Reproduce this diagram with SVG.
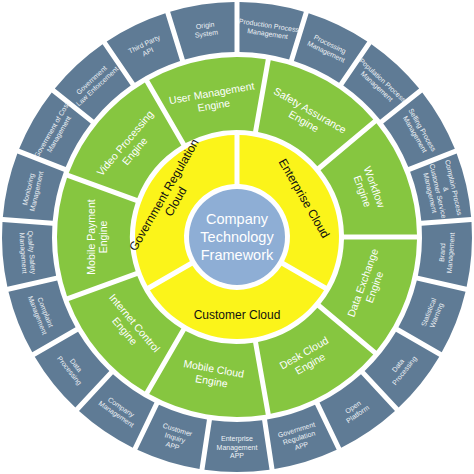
<svg xmlns="http://www.w3.org/2000/svg" xmlns:xlink="http://www.w3.org/1999/xlink" width="474" height="474" viewBox="0 0 474 474">
<style>
.ot{font-family:"Liberation Sans",Arial,sans-serif;font-size:7px;fill:#eef2f6;text-anchor:middle}
.gt{font-family:"Liberation Sans",Arial,sans-serif;font-size:10.5px;fill:#ffffff;text-anchor:middle}
.yt{font-family:"Liberation Sans",Arial,sans-serif;font-size:12px;fill:#111111;text-anchor:middle}
.ct{font-family:"Liberation Sans",Arial,sans-serif;font-size:14.5px;fill:#ffffff;text-anchor:middle}
</style>
<defs>
<path id="seg-o" fill="#5f7b95" d="M -32.55,-232.73 A 235 235 0 0 1 32.55,-232.73 L 25.10,-183.29 A 185 185 0 0 0 -25.10,-183.29 Z"/>
<path id="seg-g" fill="#86c640" d="M -59.21,-169.98 A 180 180 0 0 1 59.21,-169.98 L 34.24,-101.37 A 107 107 0 0 0 -34.24,-101.37 Z"/>
<path id="seg-y" fill="#fbf41a" d="M -87.06,-53.15 A 102 102 0 0 1 87.06,-53.15 L 44.60,-28.64 A 53 53 0 0 0 -44.60,-28.64 Z"/>
</defs>
<rect width="474" height="474" fill="#ffffff"/>

<!-- outer ring -->
<g id="n-production-process" transform="translate(237,237) rotate(8.571)"><use xlink:href="#seg-o"/><text class="ot" y="-211.6"><tspan x="0">Production Process</tspan><tspan x="0" dy="8.4">Management</tspan></text></g>
<g id="n-processing-management" transform="translate(237,237) rotate(25.714)"><use xlink:href="#seg-o"/><text class="ot" y="-211.6"><tspan x="0">Processing</tspan><tspan x="0" dy="8.4">Management</tspan></text></g>
<g id="n-population-process" transform="translate(237,237) rotate(42.857)"><use xlink:href="#seg-o"/><text class="ot" y="-211.6"><tspan x="0">Population Process</tspan><tspan x="0" dy="8.4">Management</tspan></text></g>
<g id="n-selling-process" transform="translate(237,237) rotate(60)"><use xlink:href="#seg-o"/><text class="ot" y="-211.6"><tspan x="0">Selling Process</tspan><tspan x="0" dy="8.4">Management</tspan></text></g>
<g id="n-complain-process" transform="translate(237,237) rotate(77.143)"><use xlink:href="#seg-o"/><text class="ot" y="-219.8"><tspan x="0">Complain Process</tspan><tspan x="0" dy="8">&amp;</tspan><tspan x="0" dy="8">Customer Service</tspan><tspan x="0" dy="8">Management</tspan></text></g>
<g id="n-brand-management" transform="translate(237,237) rotate(94.286)"><use xlink:href="#seg-o"/><text class="ot" transform="rotate(180)" y="208.3"><tspan x="0">Brand</tspan><tspan x="0" dy="8.4">Management</tspan></text></g>
<g id="n-statistical-warning" transform="translate(237,237) rotate(111.429)"><use xlink:href="#seg-o"/><text class="ot" transform="rotate(180)" y="208.3"><tspan x="0">Statistical</tspan><tspan x="0" dy="8.4">Warning</tspan></text></g>
<g id="n-data-processing-1" transform="translate(237,237) rotate(128.571)"><use xlink:href="#seg-o"/><text class="ot" transform="rotate(180)" y="208.3"><tspan x="0">Data</tspan><tspan x="0" dy="8.4">Processing</tspan></text></g>
<g id="n-open-platform" transform="translate(237,237) rotate(145.714)"><use xlink:href="#seg-o"/><text class="ot" transform="rotate(180)" y="208.3"><tspan x="0">Open</tspan><tspan x="0" dy="8.4">Platform</tspan></text></g>
<g id="n-government-regulation-app" transform="translate(237,237) rotate(162.857)"><use xlink:href="#seg-o"/><text class="ot" transform="rotate(180)" y="204.1"><tspan x="0">Government</tspan><tspan x="0" dy="8.4">Regulation</tspan><tspan x="0" dy="8.4">APP</tspan></text></g>
<g id="n-enterprise-management-app" transform="translate(237,237) rotate(180)"><use xlink:href="#seg-o"/><text class="ot" transform="rotate(180)" y="204.1"><tspan x="0">Enterprise</tspan><tspan x="0" dy="8.4">Management</tspan><tspan x="0" dy="8.4">APP</tspan></text></g>
<g id="n-customer-inquiry-app" transform="translate(237,237) rotate(197.143)"><use xlink:href="#seg-o"/><text class="ot" transform="rotate(180)" y="204.1"><tspan x="0">Customer</tspan><tspan x="0" dy="8.4">Inquiry</tspan><tspan x="0" dy="8.4">APP</tspan></text></g>
<g id="n-company-management" transform="translate(237,237) rotate(214.286)"><use xlink:href="#seg-o"/><text class="ot" transform="rotate(180)" y="208.3"><tspan x="0">Company</tspan><tspan x="0" dy="8.4">Management</tspan></text></g>
<g id="n-data-processing-2" transform="translate(237,237) rotate(231.429)"><use xlink:href="#seg-o"/><text class="ot" transform="rotate(180)" y="208.3"><tspan x="0">Data</tspan><tspan x="0" dy="8.4">Processing</tspan></text></g>
<g id="n-complaint-management" transform="translate(237,237) rotate(248.571)"><use xlink:href="#seg-o"/><text class="ot" transform="rotate(180)" y="208.3"><tspan x="0">Complaint</tspan><tspan x="0" dy="8.4">Management</tspan></text></g>
<g id="n-quality-safety" transform="translate(237,237) rotate(265.714)"><use xlink:href="#seg-o"/><text class="ot" transform="rotate(180)" y="208.3"><tspan x="0">Quality Safety</tspan><tspan x="0" dy="8.4">Management</tspan></text></g>
<g id="n-monitoring-management" transform="translate(237,237) rotate(282.857)"><use xlink:href="#seg-o"/><text class="ot" y="-211.6"><tspan x="0">Monitoring</tspan><tspan x="0" dy="8.4">Management</tspan></text></g>
<g id="n-government-cost" transform="translate(237,237) rotate(300)"><use xlink:href="#seg-o"/><text class="ot" y="-211.6"><tspan x="0">Government of Cost</tspan><tspan x="0" dy="8.4">Management</tspan></text></g>
<g id="n-government-law" transform="translate(237,237) rotate(317.143)"><use xlink:href="#seg-o"/><text class="ot" y="-211.6"><tspan x="0">Government</tspan><tspan x="0" dy="8.4">Law Enforcement</tspan></text></g>
<g id="n-third-party-api" transform="translate(237,237) rotate(334.286)"><use xlink:href="#seg-o"/><text class="ot" y="-211.6"><tspan x="0">Third Party</tspan><tspan x="0" dy="8.4">API</tspan></text></g>
<g id="n-origin-system" transform="translate(237,237) rotate(351.429)"><use xlink:href="#seg-o"/><text class="ot" y="-211.6"><tspan x="0">Origin</tspan><tspan x="0" dy="8.4">System</tspan></text></g>

<!-- green ring -->
<g id="n-safety-assurance" transform="translate(237,237) rotate(30)"><use xlink:href="#seg-g"/><text class="gt" y="-142.5"><tspan x="0">Safety Assurance</tspan><tspan x="0" dy="12.5">Engine</tspan></text></g>
<g id="n-workflow" transform="translate(237,237) rotate(70)"><use xlink:href="#seg-g"/><text class="gt" y="-142.5"><tspan x="0">Workflow</tspan><tspan x="0" dy="12.5">Engine</tspan></text></g>
<g id="n-data-exchange" transform="translate(237,237) rotate(110)"><use xlink:href="#seg-g"/><text class="gt" transform="rotate(180)" y="137.5"><tspan x="0">Data Exchange</tspan><tspan x="0" dy="12.5">Engine</tspan></text></g>
<g id="n-desk-cloud" transform="translate(237,237) rotate(150)"><use xlink:href="#seg-g"/><text class="gt" transform="rotate(180)" y="137.5"><tspan x="0">Desk Cloud</tspan><tspan x="0" dy="12.5">Engine</tspan></text></g>
<g id="n-mobile-cloud" transform="translate(237,237) rotate(190)"><use xlink:href="#seg-g"/><text class="gt" transform="rotate(180)" y="137.5"><tspan x="0">Mobile Cloud</tspan><tspan x="0" dy="12.5">Engine</tspan></text></g>
<g id="n-internet-control" transform="translate(237,237) rotate(230)"><use xlink:href="#seg-g"/><text class="gt" transform="rotate(180)" y="137.5"><tspan x="0">Internet Control</tspan><tspan x="0" dy="12.5">Engine</tspan></text></g>
<g id="n-mobile-payment" transform="translate(237,237) rotate(270)"><use xlink:href="#seg-g"/><text class="gt" y="-142.5"><tspan x="0">Mobile Payment</tspan><tspan x="0" dy="12.5">Engine</tspan></text></g>
<g id="n-video-processing" transform="translate(237,237) rotate(310)"><use xlink:href="#seg-g"/><text class="gt" y="-142.5"><tspan x="0">Video Processing</tspan><tspan x="0" dy="12.5">Engine</tspan></text></g>
<g id="n-user-management" transform="translate(237,237) rotate(350)"><use xlink:href="#seg-g"/><text class="gt" y="-142.5"><tspan x="0">User Management</tspan><tspan x="0" dy="12.5">Engine</tspan></text></g>

<!-- yellow ring -->
<g id="n-enterprise-cloud" transform="translate(237,237) rotate(60)"><use xlink:href="#seg-y"/><text class="yt" y="-73.3">Enterprise Cloud</text></g>
<g id="n-customer-cloud" transform="translate(237,237) rotate(180)"><use xlink:href="#seg-y"/><text class="yt" transform="rotate(180)" y="81.7">Customer Cloud</text></g>
<g id="n-government-regulation-cloud" transform="translate(237,237) rotate(300)"><use xlink:href="#seg-y"/><text class="yt" y="-80.3"><tspan x="0">Government Regulation</tspan><tspan x="0" dy="13.5">Cloud</tspan></text></g>

<!-- center -->
<g id="n-center">
<circle cx="237" cy="237" r="48" fill="#8eaed5"/>
<text class="ct" x="237" y="224">Company</text>
<text class="ct" x="237" y="242">Technology</text>
<text class="ct" x="237" y="260">Framework</text>
</g>

<g id="connectors"/>
</svg>
